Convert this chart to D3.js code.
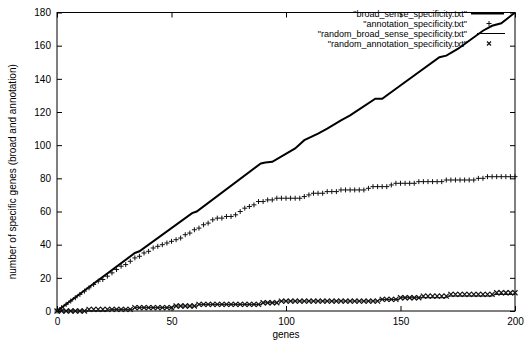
<!DOCTYPE html>
<html>
<head>
<meta charset="utf-8">
<script src="https://cdn.jsdelivr.net/npm/d3@7"></script>
<style>
  body { margin: 0; background: #fff; }
  svg { display: block; font-family: "Liberation Sans", Arial, sans-serif; }
  .axis text { font-size: 10px; fill: #000; }
  .axis line { stroke: #000; }
</style>
</head>
<body>
<div id="chart"></div>
<script>
// broad_sense_specificity.txt : [gene, count] break points of the thick line
const broadSense = [
  [0, 0], [34, 35], [36, 36], [59, 59], [61, 60], [89, 89], [91, 89.5], [94, 90],
  [104, 98], [108, 103], [114, 107], [118, 110], [124, 115], [128, 118], [139, 128],
  [142, 128], [148, 134], [167, 153], [170, 154], [175, 158], [186, 169], [190, 172],
  [194, 173.5], [200, 180]
];

// annotation_specificity.txt : count at genes 0, 2, 4 ... 200 ("+" points)
const annotation = [
  0, 2, 4, 6, 8, 10, 12, 14, 16, 18,
  19, 21, 23, 25, 27, 28, 30, 32, 33, 35,
  36, 38, 39, 40, 41, 42, 43, 44, 46, 47,
  49, 50, 52, 53, 55, 56, 56, 57, 57, 58,
  60, 62, 63, 64, 66, 66, 67, 67, 68, 68,
  68, 68, 68, 68, 69, 70, 71, 71, 71, 72,
  72, 72, 73, 73, 73, 73, 73, 73, 74, 75,
  75, 75, 75, 76, 77, 77, 77, 77, 77, 78,
  78, 78, 78, 78, 78, 79, 79, 79, 79, 79,
  79, 79, 80, 80, 81, 81, 81, 81, 81, 81,
  81
];

// random_broad_sense_specificity.txt : [gene, count] break points of the thin line
const randomBroadSense = [
  [0, 0], [22, 0], [23, 1], [33, 1], [34, 2], [50, 2], [51, 3], [61, 3], [62, 4],
  [89, 4], [90, 5], [96, 5], [97, 6], [140, 6], [141, 7], [149, 7], [150, 8],
  [170, 8], [171, 9], [190, 9], [191, 10], [200, 10]
];

// random_annotation_specificity.txt : count at genes 0, 2, 4 ... 200 ("x" points)
const randomAnnotation = [
  0, 0, 0, 0, 0, 0, 0, 1, 1, 1,
  1, 1, 1, 1, 1, 1, 1, 2, 2, 2,
  2, 2, 2, 2, 2, 2, 3, 3, 3, 3,
  3, 4, 4, 4, 4, 4, 4, 4, 4, 4,
  4, 4, 4, 4, 4, 5, 5, 5, 5, 6,
  6, 6, 6, 6, 6, 6, 6, 6, 6, 6,
  6, 6, 6, 6, 6, 6, 6, 6, 6, 6,
  6, 7, 7, 7, 7, 8, 8, 8, 8, 8,
  9, 9, 9, 9, 9, 9, 10, 10, 10, 10,
  10, 10, 10, 10, 10, 10, 11, 11, 11, 11,
  11
];
const sampleGenes = d3.range(0, 201, 2);

const xTicks = [0, 50, 100, 150, 200];
const yTicks = [0, 20, 40, 60, 80, 100, 120, 140, 160, 180];
const legendLabels = [
  "\"broad_sense_specificity.txt\"",
  "\"annotation_specificity.txt\"",
  "\"random_broad_sense_specificity.txt\"",
  "\"random_annotation_specificity.txt\""
];

const width = 524, height = 340;
const plot = { left: 57, right: 515, top: 12.5, bottom: 311 };

const svg = d3.select("#chart").append("svg")
  .attr("width", width)
  .attr("height", height);

const x = d3.scaleLinear().domain([0, 200]).range([plot.left, plot.right]);
const y = d3.scaleLinear().domain([0, 180]).range([plot.bottom, plot.top]);

// axes, ticks pointing inwards on all four sides like gnuplot
svg.append("g").attr("class", "axis")
  .attr("transform", `translate(0,${plot.bottom})`)
  .call(d3.axisBottom(x).tickValues(xTicks).tickSize(-5).tickPadding(7))
  .call(g => g.select(".domain").remove());
svg.append("g").attr("class", "axis")
  .attr("transform", `translate(0,${plot.top})`)
  .call(d3.axisTop(x).tickValues(xTicks).tickSize(-5).tickFormat(""))
  .call(g => g.select(".domain").remove());
svg.append("g").attr("class", "axis")
  .attr("transform", `translate(${plot.left},0)`)
  .call(d3.axisLeft(y).tickValues(yTicks).tickSize(-5).tickPadding(6))
  .call(g => g.select(".domain").remove());
svg.append("g").attr("class", "axis")
  .attr("transform", `translate(${plot.right},0)`)
  .call(d3.axisRight(y).tickValues(yTicks).tickSize(-5).tickFormat(""))
  .call(g => g.select(".domain").remove());

svg.append("rect")
  .attr("x", plot.left).attr("y", plot.top)
  .attr("width", plot.right - plot.left).attr("height", plot.bottom - plot.top)
  .attr("fill", "none").attr("stroke", "#000");

svg.append("text")
  .attr("x", (plot.left + plot.right) / 2).attr("y", 338)
  .attr("text-anchor", "middle").attr("font-size", 10)
  .text("genes");
svg.append("text")
  .attr("transform", `translate(16,${(plot.top + plot.bottom) / 2 + 10}) rotate(-90)`)
  .attr("text-anchor", "middle").attr("font-size", 10)
  .text("number of specific genes (broad and annotation)");

const line = d3.line().x(d => x(d[0])).y(d => y(d[1]));
const plus = (g, cx, cy, r) => g.append("path")
  .attr("d", `M${cx - r},${cy}H${cx + r}M${cx},${cy - r}V${cy + r}`)
  .attr("stroke", "#111").attr("stroke-width", 1).attr("fill", "none");
const cross = (g, cx, cy, r) => g.append("path")
  .attr("d", `M${cx - r},${cy - r}L${cx + r},${cy + r}M${cx - r},${cy + r}L${cx + r},${cy - r}`)
  .attr("stroke", "#111").attr("stroke-width", 1.2).attr("fill", "none");

const marks = svg.append("g");
marks.append("path").datum(broadSense)
  .attr("d", line).attr("fill", "none").attr("stroke", "#000").attr("stroke-width", 2);
annotation.forEach((v, i) => plus(marks, x(sampleGenes[i]), y(v), 2.5));
marks.append("path").datum(randomBroadSense)
  .attr("d", line).attr("fill", "none").attr("stroke", "#000").attr("stroke-width", 1);
randomAnnotation.forEach((v, i) => cross(marks, x(sampleGenes[i]), y(v), 2.5));

// legend
const legend = svg.append("g");
legendLabels.forEach((label, i) => {
  const ly = 13.5 + i * 10;
  legend.append("text")
    .attr("x", 467).attr("y", ly).attr("dy", "0.35em")
    .attr("text-anchor", "end").attr("font-size", 9)
    .text(label);
  if (i === 0) {
    legend.append("line").attr("x1", 471).attr("x2", 504).attr("y1", ly).attr("y2", ly)
      .attr("stroke", "#000").attr("stroke-width", 2);
  } else if (i === 1) {
    plus(legend, 489, ly, 2.5);
  } else if (i === 2) {
    legend.append("line").attr("x1", 477).attr("x2", 505).attr("y1", ly).attr("y2", ly)
      .attr("stroke", "#000").attr("stroke-width", 1);
  } else {
    cross(legend, 489, ly, 2);
  }
});
</script>
</body>
</html>
